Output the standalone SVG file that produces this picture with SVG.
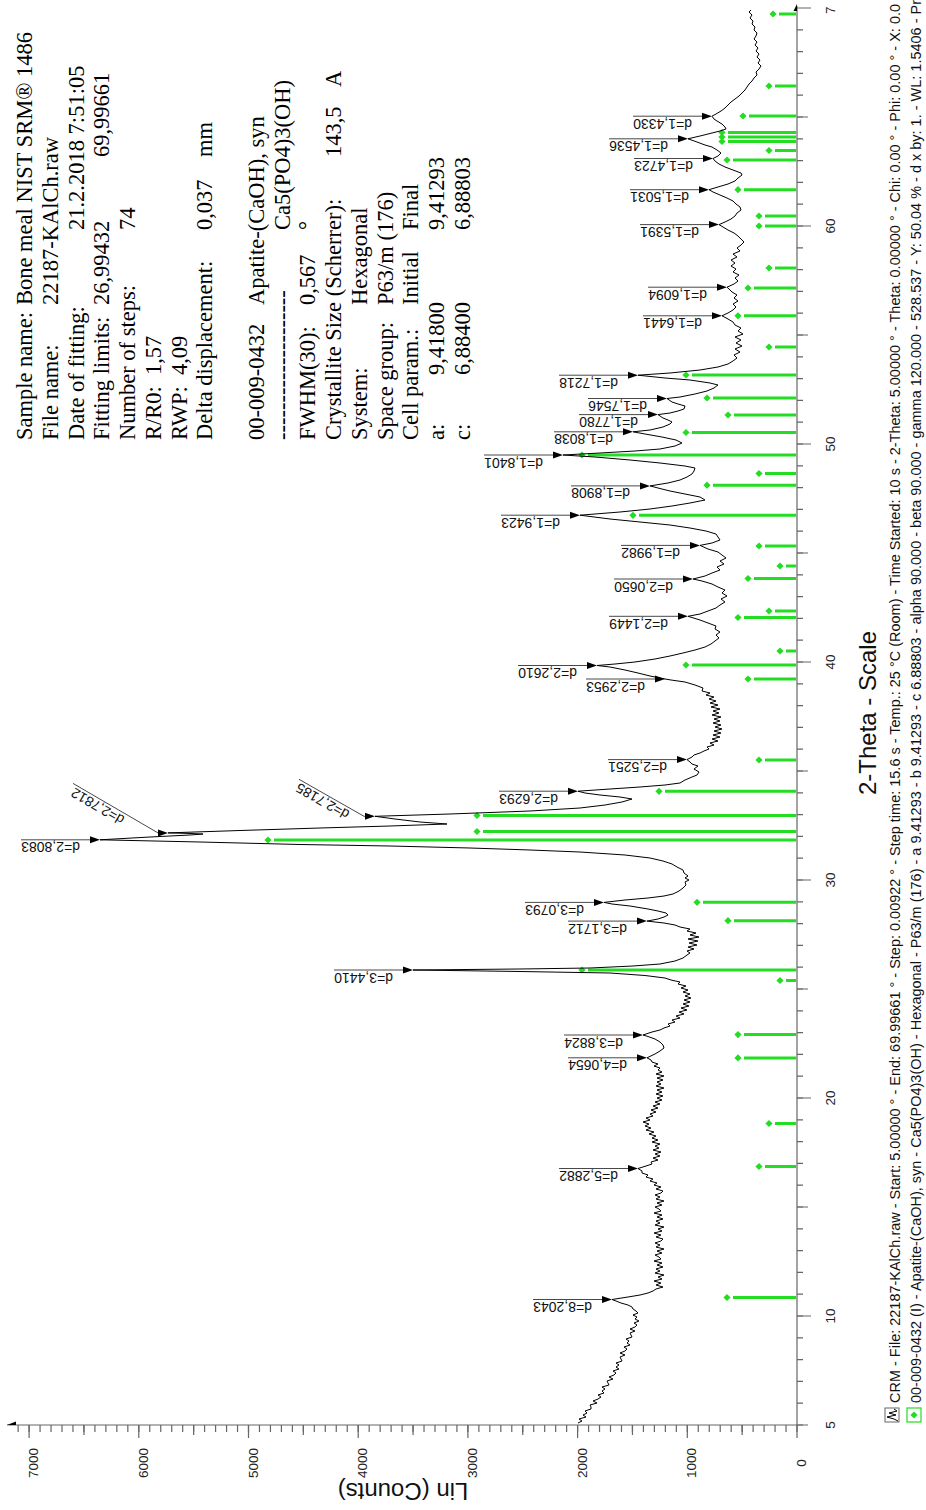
<svg xmlns="http://www.w3.org/2000/svg" xmlns:xlink="http://www.w3.org/1999/xlink" width="926" height="1510" viewBox="0 0 926 1510">
<style>
.inf{font-family:"Liberation Serif","Times New Roman",serif;font-size:22.5px;fill:#000}
.dl{font-family:"Liberation Sans",Arial,sans-serif;font-size:14px;fill:#111}
.tk{font-family:"Liberation Sans",Arial,sans-serif;font-size:13.5px;fill:#222}
.ttl{font-family:"Liberation Sans",Arial,sans-serif;font-size:24px;fill:#111}
.lg{font-family:"Liberation Sans",Arial,sans-serif;font-size:14.45px;fill:#111}
.ref{stroke:#22dd22;stroke-width:3}
.curve{fill:none;stroke:#000;stroke-width:1;stroke-linejoin:round}
.ldr{stroke:#333;stroke-width:0.9;fill:none}
.arw{fill:#000}
.ax{stroke:#666;stroke-width:1.2;fill:none}
</style>
<defs>
<path id="dm" d="M0,-3.6L3.6,0L0,3.6L-3.6,0Z" fill="#22dd22"/>
</defs>
<rect width="926" height="1510" fill="#fff"/>

<g id="axes">
<path class="ax" d="M7,1425H797V6"/>
<polygon points="7,1425 16,1421.5 16,1425" fill="#000"/>
<polygon points="797,4 793.5,11 797,11" fill="#000"/>
<path class="ax" d="M797,1425v7m-10.97,-7v7m-10.97,-7v7m-10.97,-7v7m-10.97,-7v7m-10.97,-7v7m-10.97,-7v7m-10.97,-7v7m-10.97,-7v7m-10.97,-7v7m-10.97,-7v7m-10.97,-7v7m-10.97,-7v7m-10.97,-7v7m-10.97,-7v7m-10.97,-7v7m-10.97,-7v7m-10.97,-7v7m-10.97,-7v7m-10.97,-7v7m-10.97,-7v7m-10.97,-7v7m-10.97,-7v7m-10.97,-7v7m-10.97,-7v7m-10.97,-7v7m-10.97,-7v7m-10.97,-7v7m-10.97,-7v7m-10.97,-7v7m-10.97,-7v7m-10.97,-7v7m-10.97,-7v7m-10.97,-7v7m-10.97,-7v7m-10.97,-7v7m-10.97,-7v7m-10.97,-7v7m-10.97,-7v7m-10.97,-7v7m-10.97,-7v7m-10.97,-7v7m-10.97,-7v7m-10.97,-7v7m-10.97,-7v7m-10.97,-7v7m-10.97,-7v7m-10.97,-7v7m-10.97,-7v7m-10.97,-7v7m-10.97,-7v7m-10.97,-7v7m-10.97,-7v7m-10.97,-7v7m-10.97,-7v7m-10.97,-7v7m-10.97,-7v7m-10.97,-7v7m-10.97,-7v7m-10.97,-7v7m-10.97,-7v7m-10.97,-7v7m-10.97,-7v7m-10.97,-7v7m-10.97,-7v7m-10.97,-7v7m-10.97,-7v7m-10.97,-7v7m-10.97,-7v7m-10.97,-7v7m-10.97,-7v7m-10.97,-7v7"/>
<path class="ax" d="M742.15,1425v10M632.45,1425v10M522.75,1425v10M413.05,1425v10M303.35,1425v10M193.65,1425v10M83.95,1425v10"/>
<path class="ax" d="M797,1425v13M687.3,1425v13M577.6,1425v13M467.9,1425v13M358.2,1425v13M248.5,1425v13M138.8,1425v13M29.1,1425v13"/>
<path class="ax" d="M797,1425h6m-6,-21.8h6m-6,-21.8h6m-6,-21.8h6m-6,-21.8h6m-6,-21.8h6m-6,-21.8h6m-6,-21.8h6m-6,-21.8h6m-6,-21.8h6m-6,-21.8h6m-6,-21.8h6m-6,-21.8h6m-6,-21.8h6m-6,-21.8h6m-6,-21.8h6m-6,-21.8h6m-6,-21.8h6m-6,-21.8h6m-6,-21.8h6m-6,-21.8h6m-6,-21.8h6m-6,-21.8h6m-6,-21.8h6m-6,-21.8h6m-6,-21.8h6m-6,-21.8h6m-6,-21.8h6m-6,-21.8h6m-6,-21.8h6m-6,-21.8h6m-6,-21.8h6m-6,-21.8h6m-6,-21.8h6m-6,-21.8h6m-6,-21.8h6m-6,-21.8h6m-6,-21.8h6m-6,-21.8h6m-6,-21.8h6m-6,-21.8h6m-6,-21.8h6m-6,-21.8h6m-6,-21.8h6m-6,-21.8h6m-6,-21.8h6m-6,-21.8h6m-6,-21.8h6m-6,-21.8h6m-6,-21.8h6m-6,-21.8h6m-6,-21.8h6m-6,-21.8h6m-6,-21.8h6m-6,-21.8h6m-6,-21.8h6m-6,-21.8h6m-6,-21.8h6m-6,-21.8h6m-6,-21.8h6m-6,-21.8h6m-6,-21.8h6m-6,-21.8h6m-6,-21.8h6m-6,-21.8h6"/>
<path class="ax" d="M797,1425h11M797,1207h11M797,989h11M797,771h11M797,553h11M797,335h11M797,117h11"/>
<path class="ax" d="M797,1316h14M797,1098h14M797,880h14M797,662h14M797,444h14M797,226h14M797,8h14"/>
<g class="tk">
<text transform="translate(835,1425) rotate(-90)" text-anchor="middle">5</text>
<text transform="translate(835,1316) rotate(-90)" text-anchor="middle">10</text>
<text transform="translate(835,1098) rotate(-90)" text-anchor="middle">20</text>
<text transform="translate(835,880) rotate(-90)" text-anchor="middle">30</text>
<text transform="translate(835,662) rotate(-90)" text-anchor="middle">40</text>
<text transform="translate(835,444) rotate(-90)" text-anchor="middle">50</text>
<text transform="translate(835,226) rotate(-90)" text-anchor="middle">60</text>
<text transform="translate(835,14) rotate(-90)">7</text>
<text transform="translate(806,1463) rotate(-90)" text-anchor="middle">0</text>
<text transform="translate(696.3,1463) rotate(-90)" text-anchor="middle">1000</text>
<text transform="translate(586.6,1463) rotate(-90)" text-anchor="middle">2000</text>
<text transform="translate(476.9,1463) rotate(-90)" text-anchor="middle">3000</text>
<text transform="translate(367.2,1463) rotate(-90)" text-anchor="middle">4000</text>
<text transform="translate(257.5,1463) rotate(-90)" text-anchor="middle">5000</text>
<text transform="translate(147.8,1463) rotate(-90)" text-anchor="middle">6000</text>
<text transform="translate(38.1,1463) rotate(-90)" text-anchor="middle">7000</text>
</g>
<text class="ttl" transform="translate(876,713) rotate(-90)" text-anchor="middle">2-Theta - Scale</text>
<text class="ttl" transform="translate(403,1483) rotate(180)" text-anchor="middle">Lin (Counts)</text>
</g>

<g id="reference-lines">
<path class="ref" d="M779,14H796M775,86H796M749,116H796M728,132.5H796M728,137H796M728,141.5H796M775,150.5H796M733,160H796M744,189.7H796M765,216H796M765,226H796M775,268H796M754,288H796M744,315.8H796M775,347H796M692,375H796M713,398H796M734,415H796M692,432.5H796M588,455H796M765,473.5H796M713,485.2H796M639,515.3H796M765,546H796M786,566H796M754,578.5H796M775,611H796M744,617.5H796M786,651H796M692,665H796M754,679H796M765,760H796M665,791.3H796M483,815.5H796M483,831.5H796M274,840H796M703,902.3H796M734,920.7H796M588,970H796M786,980.5H796M744,1034.6H796M744,1057.9H796M775,1123.5H796M765,1166.5H796M733,1297.5H796"/>
<use xlink:href="#dm" x="773" y="14"/><use xlink:href="#dm" x="769" y="86"/><use xlink:href="#dm" x="743" y="116"/><use xlink:href="#dm" x="722" y="132.5"/><use xlink:href="#dm" x="722" y="137"/><use xlink:href="#dm" x="722" y="141.5"/><use xlink:href="#dm" x="769" y="150.5"/><use xlink:href="#dm" x="727" y="160"/><use xlink:href="#dm" x="738" y="189.7"/><use xlink:href="#dm" x="759" y="216"/><use xlink:href="#dm" x="759" y="226"/><use xlink:href="#dm" x="769" y="268"/><use xlink:href="#dm" x="748" y="288"/><use xlink:href="#dm" x="738" y="315.8"/><use xlink:href="#dm" x="769" y="347"/><use xlink:href="#dm" x="686" y="375"/><use xlink:href="#dm" x="707" y="398"/><use xlink:href="#dm" x="728" y="415"/><use xlink:href="#dm" x="686" y="432.5"/><use xlink:href="#dm" x="582" y="455"/><use xlink:href="#dm" x="759" y="473.5"/><use xlink:href="#dm" x="707" y="485.2"/><use xlink:href="#dm" x="633" y="515.3"/><use xlink:href="#dm" x="759" y="546"/><use xlink:href="#dm" x="780" y="566"/><use xlink:href="#dm" x="748" y="578.5"/><use xlink:href="#dm" x="769" y="611"/><use xlink:href="#dm" x="738" y="617.5"/><use xlink:href="#dm" x="780" y="651"/><use xlink:href="#dm" x="686" y="665"/><use xlink:href="#dm" x="748" y="679"/><use xlink:href="#dm" x="759" y="760"/><use xlink:href="#dm" x="659" y="791.3"/><use xlink:href="#dm" x="477" y="815.5"/><use xlink:href="#dm" x="477" y="831.5"/><use xlink:href="#dm" x="268" y="840"/><use xlink:href="#dm" x="697" y="902.3"/><use xlink:href="#dm" x="728" y="920.7"/><use xlink:href="#dm" x="582" y="970"/><use xlink:href="#dm" x="780" y="980.5"/><use xlink:href="#dm" x="738" y="1034.6"/><use xlink:href="#dm" x="738" y="1057.9"/><use xlink:href="#dm" x="769" y="1123.5"/><use xlink:href="#dm" x="759" y="1166.5"/><use xlink:href="#dm" x="727" y="1297.5"/>
</g>

<g id="pattern">
<polyline class="curve" points="578,1423 582,1421 579,1419 586,1417 583,1415 587,1413 585,1411 591,1409 591,1407 590,1405 597,1403 593,1401 598,1399 601,1397 598,1395 604,1393 602,1391 605,1389 602,1387 609,1385 608,1383 607,1381 613,1379 609,1377 614,1375 616,1373 613,1371 619,1369 616,1367 619,1365 616,1363 622,1361 621,1359 620,1357 625,1355 620,1353 625,1351 627,1349 624,1347 630,1345 627,1343 629,1341 626,1339 632,1337 631,1335 630,1333 635,1331 630,1329 635,1327 637,1325 634,1323 639,1321 635,1319 637,1317 633,1315 638,1313 636,1311 633,1309 632,1307 628,1305 621,1303 616,1301 612,1299.5 628,1297 640,1295 648,1293 653,1291 656,1289 663,1287 656,1285 661,1283 654,1281 662,1279 658,1277 664,1275 655,1273 660,1271 656,1269 663,1267 657,1265 662,1263 654,1261 661,1259 659,1257 655,1255 662,1253 657,1251 664,1249 656,1247 660,1245 655,1243 661,1241 663,1239 656,1237 661,1235 654,1233 662,1231 658,1229 664,1227 655,1225 660,1223 656,1221 663,1219 657,1217 662,1215 654,1213 661,1211 659,1209 655,1207 662,1205 657,1203 664,1201 656,1199 660,1197 655,1195 661,1193 663,1191 656,1189 661,1187 654,1185 657,1183 650,1181 653,1179 646,1177 648,1175 642,1173 642,1171 638,1168.5 646,1166 652,1164 651,1162 658,1160 653,1158 660,1156 655,1154 661,1152 653,1150 659,1148 655,1146 660,1144 652,1142 658,1140 652,1138 656,1136 649,1134 654,1132 646,1130 651,1128 645,1126 649,1124 643,1122 650,1120 646,1118 653,1116 650,1114 656,1112 651,1110 658,1108 653,1106 660,1104 655,1102 662,1100 657,1098 663,1096 656,1094 662,1092 657,1090 664,1088 656,1086 661,1084 657,1082 663,1080 657,1078 664,1076 656,1074 662,1072 658,1070 660,1068 654,1066 658,1064 652,1062 651,1060 647,1057.8 655,1054 660,1051 664,1048 663,1045 660,1042 655,1039 648,1036.5 643,1035 652,1032 660,1030 664,1028 670,1026 668,1024 675,1022 672,1020 680,1018 676,1016 684,1014 679,1012 687,1010 681,1008 689,1006 683,1004 690,1002 684,1000 691,998 685,996 690,994 683,992 688,990 681,988 686,986 678,984 680,982 671,980 665,978 645,975.5 610,973 520,971.5 413,970 520,969 590,968 633,966 660,964 675,961 683,958 687,955 690,953 687,951 694,949 688,947 697,945 689,943 698,941 688,939 699,937 690,935 696,933 687,931 690,929 680,927 675,925 664,923 647,921.1 658,919 664,917 668,915 666,913 658,911 648,909 630,906 612,904 604,902.4 625,900 648,898 664,896 673,894 679,891 683,888 686,885 685,882 689,880 685,878 688,876 684,873 683,870 677,867 672,864 663,861 650,858 625,855 580,852 530,850 470,848 390,846 300,844.5 200,842 100,839.8 150,837 190,835 203,834 185,833.3 168,832.9 240,830.5 320,828 390,826 447,824 420,822 395,819 375,816.3 450,814 530,811 580,808 605,805 622,802 632,799 620,797 600,795 585,793 578,791.2 610,789 640,787 665,785 680,783 685,780 692,777 697,775 699,772 694,769 698,766 692,764 690,762 687,759.6 692,757 694,755 700,753 704,751 709,749 707,747 714,745 710,743 718,741 712,739 720,737 713,735 721,733 714,731 722,729 715,727 721,725 713,723 720,721 714,719 721,717 712,715 719,713 713,711 720,709 711,707 718,705 710,703 716,701 709,699 714,697 706,695 710,693 702,691 703,688 695,685 685,682 671,680 665,679 650,676 638,673 625,670 610,667 597,665.5 615,664 635,662 655,659 670,656 683,653 695,650 705,647 711,644 715,641 719,638 716,635 720,632 715,629 716,626 708,623 700,620 688,616.3 700,614 708,611 716,608 720,605 725,602 721,599 727,596 722,593 725,590 718,587 712,584 702,581 693,579 705,576 712,573 720,570 717,567 724,564 720,561 726,558 722,555 718,552 708,549 700,545.4 712,543 720,540 718,537 716,534 706,531 690,528 670,525 640,522 610,519 580,515.2 620,512 650,509 672,506 690,503 705,500 700,497 685,494 670,491 658,488 650,485.9 668,483 680,480 687,477 692,474 694,471 695,468 685,466 660,463 630,460 595,457 563,455 600,453 635,451 660,449 675,446 682,443 676,440 662,437 645,434 633,431.8 650,430 663,427 670,424 672,422 668,420 663,418 658,414.6 670,413 678,411 684,409 685,406 678,404 672,402 667,398.5 680,397 695,394 707,391 714,388 718,385 710,383 690,380 665,378 638,375.2 670,373 700,370 718,367 728,364 733,361 737,358 734,355 740,352 735,349 742,346 736,343 741,340 735,337 743,334 738,331 741,328 735,325 733,322 728,319 722,315.8 728,313 733,310 736,307 733,304 738,301 734,298 737,295 732,292 729,289 727,287.2 734,284 738,281 735,278 739,275 733,272 736,269 731,266 735,263 731,260 737,257 733,254 740,251 737,248 741,245 744,242 741,239 738,236 734,233 728,230 723,227 719,224.6 725,222 731,219 735,216 737,213 741,210 740,207 736,204 733,201 727,198 720,195 713,192 709,189.7 718,187 728,184 735,181 738,178 742,175 741,173 733,170 725,167 719,164 715,161 713,158.5 718,156 721,153 717,150 712,147 705,145 697,142 688,138.8 700,136 712,133 720,131 726,129 725,127 722,124 717,121 714,119 712,116.2 716,114 721,111 725,108 728,105 731,102 735,99 739,96 742,93 745,90 747,87 749,84 752,81 754,78 757,75 756,72 759,69 761,66 758,63 760,60 757,57 759,54 756,51 758,48 755,45 757,42 754,39 756,36 757,33 754,30 755,27 752,24 753,21 750,18 752,15 749,12 751,10"/>
</g>

<g id="d-labels">
<g id="d1_4330"><path class="ldr" d="M633,116.2H703"/><polygon class="arw" points="712,116.2 702,112.7 702,119.7"/><text class="dl" transform="translate(692,118.7) rotate(180)">d=1,4330</text></g>
<g id="d1_4536"><path class="ldr" d="M609,138.8H679"/><polygon class="arw" points="688,138.8 678,135.3 678,142.3"/><text class="dl" transform="translate(668,141.3) rotate(180)">d=1,4536</text></g>
<g id="d1_4723"><path class="ldr" d="M634,158.5H704"/><polygon class="arw" points="713,158.5 703,155 703,162"/><text class="dl" transform="translate(693,161) rotate(180)">d=1,4723</text></g>
<g id="d1_5031"><path class="ldr" d="M630,189.7H700"/><polygon class="arw" points="709,189.7 699,186.2 699,193.2"/><text class="dl" transform="translate(689,192.2) rotate(180)">d=1,5031</text></g>
<g id="d1_5391"><path class="ldr" d="M640,224.6H710"/><polygon class="arw" points="719,224.6 709,221.1 709,228.1"/><text class="dl" transform="translate(699,227.1) rotate(180)">d=1,5391</text></g>
<g id="d1_6094"><path class="ldr" d="M648,287.2H718"/><polygon class="arw" points="727,287.2 717,283.7 717,290.7"/><text class="dl" transform="translate(707,289.7) rotate(180)">d=1,6094</text></g>
<g id="d1_6441"><path class="ldr" d="M643,315.8H713"/><polygon class="arw" points="722,315.8 712,312.3 712,319.3"/><text class="dl" transform="translate(702,318.3) rotate(180)">d=1,6441</text></g>
<g id="d1_7218"><path class="ldr" d="M559,375.2H629"/><polygon class="arw" points="638,375.2 628,371.7 628,378.7"/><text class="dl" transform="translate(618,377.7) rotate(180)">d=1,7218</text></g>
<g id="d1_7546"><path class="ldr" d="M588,398.5H658"/><polygon class="arw" points="667,398.5 657,395 657,402"/><text class="dl" transform="translate(647,401) rotate(180)">d=1,7546</text></g>
<g id="d1_7780"><path class="ldr" d="M579,414.6H649"/><polygon class="arw" points="658,414.6 648,411.1 648,418.1"/><text class="dl" transform="translate(638,417.1) rotate(180)">d=1,7780</text></g>
<g id="d1_8038"><path class="ldr" d="M554,431.8H624"/><polygon class="arw" points="633,431.8 623,428.3 623,435.3"/><text class="dl" transform="translate(613,434.3) rotate(180)">d=1,8038</text></g>
<g id="d1_8401"><path class="ldr" d="M484,455H554"/><polygon class="arw" points="563,455 553,451.5 553,458.5"/><text class="dl" transform="translate(543,457.5) rotate(180)">d=1,8401</text></g>
<g id="d1_8908"><path class="ldr" d="M571,485.9H641"/><polygon class="arw" points="650,485.9 640,482.4 640,489.4"/><text class="dl" transform="translate(630,488.4) rotate(180)">d=1,8908</text></g>
<g id="d1_9423"><path class="ldr" d="M501,515.2H571"/><polygon class="arw" points="580,515.2 570,511.7 570,518.7"/><text class="dl" transform="translate(560,517.7) rotate(180)">d=1,9423</text></g>
<g id="d1_9982"><path class="ldr" d="M621,545.4H691"/><polygon class="arw" points="700,545.4 690,541.9 690,548.9"/><text class="dl" transform="translate(680,547.9) rotate(180)">d=1,9982</text></g>
<g id="d2_0650"><path class="ldr" d="M614,579H684"/><polygon class="arw" points="693,579 683,575.5 683,582.5"/><text class="dl" transform="translate(673,581.5) rotate(180)">d=2,0650</text></g>
<g id="d2_1449"><path class="ldr" d="M609,616.3H679"/><polygon class="arw" points="688,616.3 678,612.8 678,619.8"/><text class="dl" transform="translate(668,618.8) rotate(180)">d=2,1449</text></g>
<g id="d2_2610"><path class="ldr" d="M518,665.5H588"/><polygon class="arw" points="597,665.5 587,662 587,669"/><text class="dl" transform="translate(577,668) rotate(180)">d=2,2610</text></g>
<g id="d2_2953"><path class="ldr" d="M586,679H656"/><polygon class="arw" points="665,679 655,675.5 655,682.5"/><text class="dl" transform="translate(645,681.5) rotate(180)">d=2,2953</text></g>
<g id="d2_5251"><path class="ldr" d="M608,759.6H678"/><polygon class="arw" points="687,759.6 677,756.1 677,763.1"/><text class="dl" transform="translate(667,762.1) rotate(180)">d=2,5251</text></g>
<g id="d2_6293"><path class="ldr" d="M499,791.2H569"/><polygon class="arw" points="578,791.2 568,787.7 568,794.7"/><text class="dl" transform="translate(558,793.7) rotate(180)">d=2,6293</text></g>
<g id="d2_7185"><path class="ldr" d="M299,779.3L364,816.3H366"/><polygon class="arw" points="375,816.3 365,812.8 365,819.8"/><text class="dl" transform="translate(350.6,811.6) rotate(209.7)">d=2,7185</text></g>
<g id="d2_7812"><path class="ldr" d="M73,783.4L158,832.9H159"/><polygon class="arw" points="168,832.9 158,829.4 158,836.4"/><text class="dl" transform="translate(125.6,817) rotate(210.2)">d=2,7812</text></g>
<g id="d2_8083"><path class="ldr" d="M21,839.8H91"/><polygon class="arw" points="100,839.8 90,836.3 90,843.3"/><text class="dl" transform="translate(80,842.3) rotate(180)">d=2,8083</text></g>
<g id="d3_0793"><path class="ldr" d="M525,902.4H595"/><polygon class="arw" points="604,902.4 594,898.9 594,905.9"/><text class="dl" transform="translate(584,904.9) rotate(180)">d=3,0793</text></g>
<g id="d3_1712"><path class="ldr" d="M568,921.1H638"/><polygon class="arw" points="647,921.1 637,917.6 637,924.6"/><text class="dl" transform="translate(627,923.6) rotate(180)">d=3,1712</text></g>
<g id="d3_4410"><path class="ldr" d="M334,970H404"/><polygon class="arw" points="413,970 403,966.5 403,973.5"/><text class="dl" transform="translate(393,972.5) rotate(180)">d=3,4410</text></g>
<g id="d3_8824"><path class="ldr" d="M564,1035H634"/><polygon class="arw" points="643,1035 633,1031.5 633,1038.5"/><text class="dl" transform="translate(623,1037.5) rotate(180)">d=3,8824</text></g>
<g id="d4_0654"><path class="ldr" d="M568,1057.8H638"/><polygon class="arw" points="647,1057.8 637,1054.3 637,1061.3"/><text class="dl" transform="translate(627,1060.3) rotate(180)">d=4,0654</text></g>
<g id="d5_2882"><path class="ldr" d="M559,1168.5H629"/><polygon class="arw" points="638,1168.5 628,1165 628,1172"/><text class="dl" transform="translate(618,1171) rotate(180)">d=5,2882</text></g>
<g id="d8_2043"><path class="ldr" d="M533,1299.5H603"/><polygon class="arw" points="612,1299.5 602,1296 602,1303"/><text class="dl" transform="translate(592,1302) rotate(180)">d=8,2043</text></g>
</g>

<g id="info" class="inf">
<text transform="translate(32,440) rotate(-90)">Sample name:</text>
<text transform="translate(32,305) rotate(-90)">Bone meal NIST SRM® 1486</text>
<text transform="translate(57.8,440) rotate(-90)">File name:</text>
<text transform="translate(57.8,305) rotate(-90)">22187-KAlCh.raw</text>
<text transform="translate(83.5,440) rotate(-90)">Date of fitting:</text>
<text transform="translate(83.5,230) rotate(-90)">21.2.2018 7:51:05</text>
<text transform="translate(109.3,440) rotate(-90)">Fitting limits:</text>
<text transform="translate(109.3,305) rotate(-90)">26,99432</text>
<text transform="translate(109.3,157) rotate(-90)">69,99661</text>
<text transform="translate(135,440) rotate(-90)">Number of steps:</text>
<text transform="translate(135,230) rotate(-90)">74</text>
<text transform="translate(160.8,440) rotate(-90)">R/R0:</text>
<text transform="translate(160.8,375) rotate(-90)">1,57</text>
<text transform="translate(186.6,440) rotate(-90)">RWP:</text>
<text transform="translate(186.6,375) rotate(-90)">4,09</text>
<text transform="translate(212.3,440) rotate(-90)">Delta displacement:</text>
<text transform="translate(212.3,230) rotate(-90)">0,037</text>
<text transform="translate(212.3,157) rotate(-90)">mm</text>
<text transform="translate(263.8,440) rotate(-90)">00-009-0432</text>
<text transform="translate(263.8,305) rotate(-90)">Apatite-(CaOH), syn</text>
<text transform="translate(289.6,440) rotate(-90)">--------------------</text>
<text transform="translate(289.6,230) rotate(-90)">Ca5(PO4)3(OH)</text>
<text transform="translate(315.4,440) rotate(-90)">FWHM(30):</text>
<text transform="translate(315.4,305) rotate(-90)">0,567</text>
<text transform="translate(315.4,230) rotate(-90)">°</text>
<text transform="translate(341.1,440) rotate(-90)">Crystallite Size (Scherrer):</text>
<text transform="translate(341.1,157) rotate(-90)">143,5</text>
<text transform="translate(341.1,87) rotate(-90)">A</text>
<text transform="translate(366.9,440) rotate(-90)">System:</text>
<text transform="translate(366.9,305) rotate(-90)">Hexagonal</text>
<text transform="translate(392.7,440) rotate(-90)">Space group:</text>
<text transform="translate(392.7,305) rotate(-90)">P63/m (176)</text>
<text transform="translate(418.4,440) rotate(-90)">Cell param.:</text>
<text transform="translate(418.4,305) rotate(-90)">Initial</text>
<text transform="translate(418.4,230) rotate(-90)">Final</text>
<text transform="translate(444.2,440) rotate(-90)">a:</text>
<text transform="translate(444.2,375) rotate(-90)">9,41800</text>
<text transform="translate(444.2,230) rotate(-90)">9,41293</text>
<text transform="translate(470,440) rotate(-90)">c:</text>
<text transform="translate(470,375) rotate(-90)">6,88400</text>
<text transform="translate(470,230) rotate(-90)">6,88803</text>
</g>

<g id="legend">
<rect x="885" y="1408" width="14" height="14" fill="#fff" stroke="#666" stroke-width="1"/>
<polyline points="898,1421 894,1419 887,1417 896,1415 889,1413 897,1411 894,1409" fill="none" stroke="#000" stroke-width="1"/>
<rect x="907" y="1408" width="14" height="14" fill="#fff" stroke="#22dd22" stroke-width="1.2"/>
<use xlink:href="#dm" x="914" y="1415"/>
<text class="lg" transform="translate(900,1403) rotate(-90)" textLength="1399" lengthAdjust="spacing">CRM - File: 22187-KAlCh.raw - Start: 5.00000 ° - End: 69.99661 ° - Step: 0.00922 ° - Step time: 15.6 s - Temp.: 25 °C (Room) - Time Started: 10 s - 2-Theta: 5.00000 ° - Theta: 0.00000 ° - Chi: 0.00 ° - Phi: 0.00 ° - X: 0.0</text>
<text class="lg" transform="translate(921,1403) rotate(-90)" textLength="1403" lengthAdjust="spacing">00-009-0432 (I) - Apatite-(CaOH), syn - Ca5(PO4)3(OH) - Hexagonal - P63/m (176) - a 9.41293 - b 9.41293 - c 6.88803 - alpha 90.000 - beta 90.000 - gamma 120.000 - 528.537 - Y: 50.04 % - d x by: 1. - WL: 1.5406 - Pr</text>
</g>
</svg>
